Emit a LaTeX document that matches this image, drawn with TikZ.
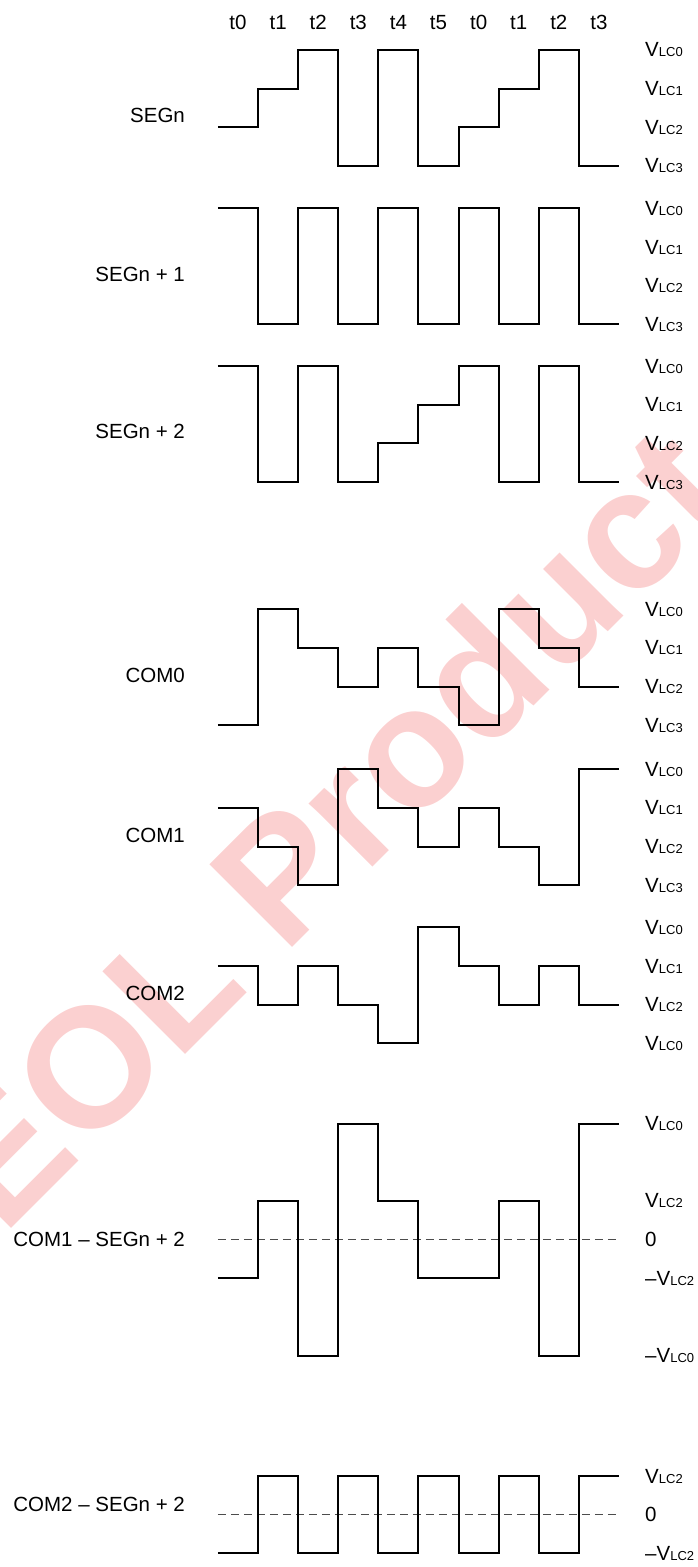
\documentclass[tikz,border=0pt]{standalone}
\usepackage{fontspec}
\setmainfont{Liberation Sans}
\usetikzlibrary{positioning}
\DeclareRobustCommand{\vlc}[1]{V{\fontsize{13}{15}\selectfont LC#1}}
\definecolor{stamp}{RGB}{251,208,208}

\begin{document}
\begin{tikzpicture}[x=40.1pt, y=-38.65pt,
    wave/.style={line width=2pt},
    zero/.style={line width=1.2pt, black!70, dash pattern=on 8pt off 5pt},
    lbl/.style={font=\fontsize{20.5}{24}\selectfont, inner sep=0pt}]
  \useasboundingbox (-5.436,-1.294) rectangle (11.970,39.25);
  \begin{scope}
    \clip (-5.436,-1.294) rectangle (11.970,39.25);
    \node[rotate=45, anchor=base west, inner sep=0pt, text=stamp,
          font=\fontsize{170}{170}\selectfont\bfseries] (wm) at (-5.34,30.69) {EOL Product};
  \end{scope}
  \foreach \t [count=\i from 0] in {t0,t1,t2,t3,t4,t5,t0,t1,t2,t3}
    \node[lbl] (t\i) at (\i+0.5,-0.72) {\t};
  \foreach \nm/\yb/\s/\lv/\lc [count=\k] in {
      SEGn/0/2/{2,1,0,3,0,3,2,1,0,3}/{0,1,2,3},
      SEGn + 1/4.1/0/{0,3,0,3,0,3,0,3,0,3}/{0,1,2,3},
      SEGn + 2/8.18/0/{0,3,0,3,2,1,0,3,0,3}/{0,1,2,3},
      COM0/14.47/3/{3,0,1,2,1,2,3,0,1,2}/{0,1,2,3},
      COM1/18.61/1/{1,2,3,0,1,2,1,2,3,0}/{0,1,2,3},
      COM2/22.7/1/{1,2,1,2,3,0,1,2,1,2}/{0,1,2,0}}
  {
    \node[lbl, anchor=east] (n\k) at (-0.82,\yb+1.7) {\nm};
    \draw[wave] (0,\yb+\s) foreach \l [count=\i] in \lv { |- (\i,{\yb+\l}) };
    \foreach \c [count=\j from 0] in \lc
      \node[lbl, anchor=west] (v\k-\j) at (10.65,\yb+\j) {\vlc{\c}};
  }
  \foreach \nm/\yb/\dy/\lv/\rl [count=\k from 7] in {
      COM1 – SEGn + 2/30.78/0/{1,-1,3,-3,-1,1,1,-1,3,-3}/{-3/\vlc{0},-1/\vlc{2},0/0,1/–\vlc{2},3/–\vlc{0}},
      COM2 – SEGn + 2/37.9/-0.28/{1,-1,1,-1,1,-1,1,-1,1,-1}/{-1/\vlc{2},0/0,1/–\vlc{2}}}
  {
    \node[lbl, anchor=east] (n\k) at (-0.82,\yb+\dy) {\nm};
    \draw[zero] (0,\yb) -- (10,\yb);
    \draw[wave] (0,\yb+1) foreach \l [count=\i] in \lv { |- (\i,{\yb+(\l)}) };
    \foreach \v/\txt [count=\j] in \rl
      \node[lbl, anchor=west] (v\k-\j) at (10.65,{\yb+(\v)}) {\txt};
  }
\end{tikzpicture}
\end{document}
